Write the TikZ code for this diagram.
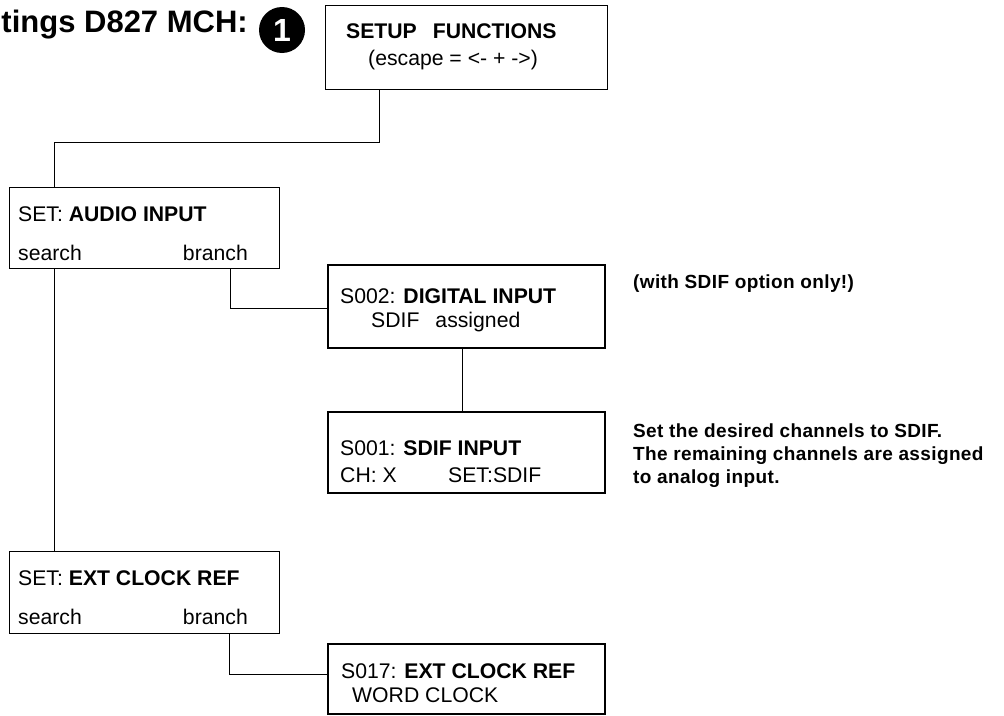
\documentclass[tikz,border=0pt]{standalone}
\usepackage{fontspec}
\setmainfont{Liberation Sans}
\newcommand{\boxfont}{\fontsize{21.2}{24}\selectfont}
\newcommand{\notefont}{\fontsize{19}{23}\selectfont\bfseries\addfontfeature{LetterSpace=2}}
\tikzset{box/.style={draw,line width=1pt,anchor=north west,inner sep=0pt},thickbox/.style={box,line width=2pt},
txt/.style={anchor=base west,inner sep=0pt,font=\boxfont},note/.style={inner sep=0pt,font=\notefont,align=left},wire/.style={line width=.9pt}}

\begin{document}
\begin{tikzpicture}[x=1pt,y=-1pt]
\useasboundingbox (0,0) rectangle (1004,715);
\node[anchor=base east,inner sep=0pt,font=\fontsize{31}{36}\selectfont\bfseries] (title) at (248,32) {tings D827 MCH:};
\node[circle,fill=black,text=white,minimum size=46pt,inner sep=0pt,font=\fontsize{32}{36}\selectfont\bfseries] (num) at (282,30) {1};
% boxes
\node[box,minimum width=282pt,minimum height=84pt] (setup) at (325,5) {};
\node[box,minimum width=270pt,minimum height=81pt] (audio) at (9,187) {};
\node[thickbox,minimum width=277pt,minimum height=83pt] (digital) at (327,264) {};
\node[thickbox,minimum width=277pt,minimum height=81pt] (sdif) at (327,411) {};
\node[box,minimum width=270pt,minimum height=82pt] (extclk) at (9,551) {};
\node[thickbox,minimum width=277pt,minimum height=70pt] (word) at (327,643) {};
% texts
\node[txt] (setupA) at (346,38) {\bfseries SETUP\hspace{16pt}FUNCTIONS};
\node[txt] (setupB) at (368,65) {(escape = <- + ->)};
\node[txt] (audioA) at (18,221) {SET: \textbf{AUDIO INPUT}};
\node[txt] (audioB) at (18,260) {search};
\node[txt,anchor=base east] (audioC) at (248,260) {branch};
\node[txt] (digitalA) at (340,303) {S002: \textbf{DIGITAL INPUT}};
\node[txt] (digitalB) at (371,327) {SDIF\hspace{16pt}assigned};
\node[txt] (sdifA) at (340,455) {S001: \textbf{SDIF INPUT}};
\node[txt] (sdifB) at (340,482) {CH: X};
\node[txt] (sdifC) at (448,482) {SET:SDIF};
\node[txt] (extclkA) at (18,585) {SET: \textbf{EXT CLOCK REF}};
\node[txt] (extclkB) at (18,624) {search};
\node[txt,anchor=base east] (extclkC) at (248,624) {branch};
\node[txt] (wordA) at (341,678) {S017: \textbf{EXT CLOCK REF}};
\node[txt] (wordB) at (352,702) {WORD CLOCK};
\node[note,anchor=base west] (opt) at (633,288) {(with SDIF option only!)};
\node[note,anchor=north west] (hint) at (633,424) {Set the desired channels to SDIF.\\The remaining channels are assigned\\to analog input.};
% connectors
\draw[wire] ([xshift=54pt]setup.south west) -- ++(0,52) -| ([xshift=45pt]audio.north west);
\draw[wire] ([xshift=45pt]audio.south west) -- ([xshift=45pt]extclk.north west);
\draw[wire] ([xshift=221pt]audio.south west) |- ([yshift=-2pt]digital.west);
\draw[wire] ([xshift=135pt]digital.south west) -- ([xshift=135pt]sdif.north west);
\draw[wire] ([xshift=220pt]extclk.south west) |- ([yshift=5pt]word.west);
\end{tikzpicture}
\end{document}
